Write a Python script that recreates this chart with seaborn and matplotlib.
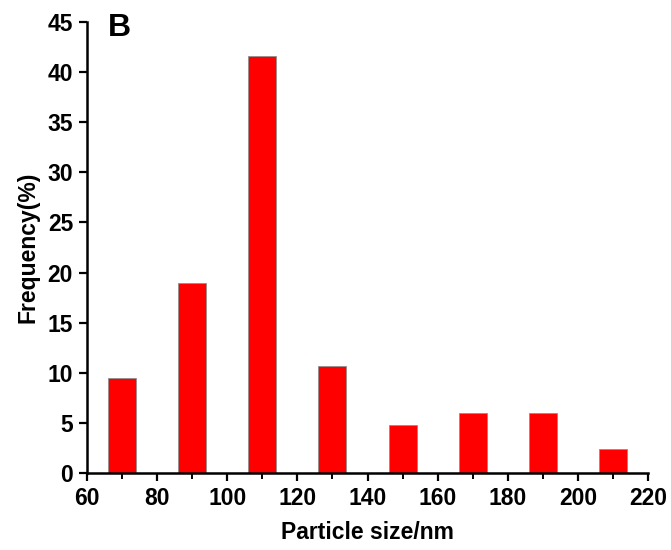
import matplotlib
matplotlib.use("Agg")
import matplotlib.pyplot as plt
import seaborn as sns
import pandas as pd
from matplotlib.ticker import MultipleLocator

sizes = [70, 90, 110, 130, 150, 170, 190, 210]
freq = [9.5, 19.0, 41.6, 10.7, 4.8, 6.0, 6.0, 2.4]
x_ticks = [60, 80, 100, 120, 140, 160, 180, 200, 220]
y_ticks = [0, 5, 10, 15, 20, 25, 30, 35, 40, 45]

sns.set_theme(style="ticks")
plt.rcParams['font.family'] = ['Liberation Sans', 'DejaVu Sans']
plt.rcParams['font.weight'] = 'bold'
plt.rcParams['text.color'] = 'black'
plt.rcParams['axes.labelcolor'] = 'black'
plt.rcParams['xtick.labelsize'] = 16
plt.rcParams['ytick.labelsize'] = 16

df = pd.DataFrame({"size": sizes, "freq": freq})

fig = plt.figure(figsize=(6.71, 5.5), dpi=100)
ax = fig.add_axes([87/671, 77/550, (648-87)/671, (473-22)/550])

sns.barplot(data=df, x="size", y="freq", native_scale=True, width=0.4,
            color="#FF0000", saturation=1, edgecolor="#909090", linewidth=0.6, ax=ax)

ax.set_xlim(60, 220)
ax.set_ylim(0, 45)
ax.set_xticks(x_ticks)
ax.set_yticks(y_ticks)
ax.xaxis.set_minor_locator(MultipleLocator(10))
ax.tick_params(axis='both', which='major', direction='out', length=6, width=1.6, pad=4,
               colors='black', labelsize=16.5)
ax.tick_params(axis='x', which='minor', direction='out', length=4, width=1.4, colors='black')
for lab in ax.get_xticklabels() + ax.get_yticklabels():
    lab.set_fontweight('bold')
ax.set_xlabel("Particle size/nm", fontsize=16.5, fontweight='bold', labelpad=8, color='black')
ax.set_ylabel("Frequency(%)", fontsize=16.5, fontweight='bold', labelpad=6, color='black')

for s in ['top', 'right']:
    ax.spines[s].set_visible(False)
for s in ['left', 'bottom']:
    ax.spines[s].set_linewidth(1.8)
    ax.spines[s].set_color('black')

fig.text(108/671, 1 - 13/550, "B", fontsize=23, fontweight='bold', va='top', ha='left', color='black')

fig.savefig("out.png", dpi=100)
